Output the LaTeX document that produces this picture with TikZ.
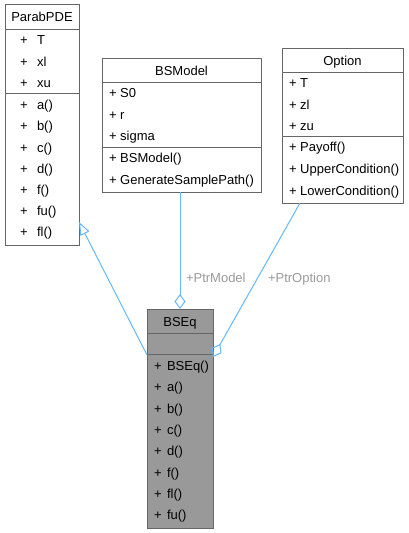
\documentclass[tikz,border=0pt]{standalone}
\usepackage{fontspec}
\setmainfont{Liberation Sans}
\usetikzlibrary{arrows.meta,calc}
\definecolor{boxline}{HTML}{666666}
\definecolor{boxfill}{HTML}{999999}
\definecolor{edgeblue}{HTML}{63B8FF}
\definecolor{lblgray}{HTML}{9A9A9A}
\tikzset{
  classbox/.style={draw=boxline, line width=1pt, inner sep=0pt, outer sep=0pt, anchor=north west, rectangle},
  txt/.style={inner sep=0pt, outer sep=0pt, font=\fontsize{13}{15}\selectfont, text height=9.3pt, text depth=0pt, anchor=west},
  ttl/.style={txt, anchor=center},
  divider/.style={draw=boxline, line width=1pt},
  edge/.style={draw=edgeblue, line width=1pt},
  lbl/.style={txt, text=lblgray},
}
\begin{document}
\begin{tikzpicture}[x=1pt,y=-1pt]
\useasboundingbox (0,0) rectangle (409,533);
% ---------- ParabPDE ----------
\node[classbox, fill=white, minimum width=74pt, minimum height=241pt] (parab) at (5,4) {};
\draw[divider] ($(parab.north west)+(0,25)$) -- ($(parab.north east)+(0,25)$);
\draw[divider] ($(parab.north west)+(0,89)$) -- ($(parab.north east)+(0,89)$);
\node[ttl] (parabT) at ($(parab.north)+(0,13)$) {ParabPDE};
\foreach \n/\y [count=\i] in {T/40, xl/61.5, xu/83, a()/105, b()/126.2, c()/147.4, d()/168.6, f()/189.8, fu()/211, fl()/232.2}{
  \node[txt] (parabP\i) at (20,\y) {+};
  \node[txt] (parabN\i) at (37,\y) {\n};
}
% ---------- BSModel ----------
\node[classbox, fill=white, minimum width=159pt, minimum height=134pt] (bsmodel) at (102,58) {};
\draw[divider] ($(bsmodel.north west)+(0,24)$) -- ($(bsmodel.north east)+(0,24)$);
\draw[divider] ($(bsmodel.north west)+(0,89)$) -- ($(bsmodel.north east)+(0,89)$);
\node[ttl] (bsmodelT) at ($(bsmodel.north)+(0,12.5)$) {BSModel};
\foreach \n/\y [count=\i] in {S0/93, r/114.5, sigma/136, BSModel()/158, GenerateSamplePath()/180}{
  \node[txt] (bsmodelN\i) at (109,\y) {+ \n};
}
% ---------- Option ----------
\node[classbox, fill=white, minimum width=121pt, minimum height=155pt] (option) at (282,48) {};
\draw[divider] ($(option.north west)+(0,24)$) -- ($(option.north east)+(0,24)$);
\draw[divider] ($(option.north west)+(0,88)$) -- ($(option.north east)+(0,88)$);
\node[ttl] (optionT) at ($(option.north)+(0,12.5)$) {Option};
\foreach \n/\y [count=\i] in {T/83, zl/105, zu/126, Payoff()/147, UpperCondition()/169, LowerCondition()/191}{
  \node[txt] (optionN\i) at (289,\y) {+ \n};
}
% ---------- BSEq ----------
\node[classbox, fill=boxfill, minimum width=66pt, minimum height=219pt] (bseq) at (147,309) {};
\draw[divider] ($(bseq.north west)+(0,24)$) -- ($(bseq.north east)+(0,24)$);
\draw[divider] ($(bseq.north west)+(0,45)$) -- ($(bseq.north east)+(0,45)$);
\node[ttl] (bseqT) at ($(bseq.north)+(0,12.5)$) {BSEq};
\foreach \n/\y [count=\i] in {BSEq()/366, a()/387, b()/408.5, c()/430, d()/451, f()/472.5, fl()/494, fu()/515}{
  \node[txt] (bseqP\i) at (154,\y) {+};
  \node[txt] (bseqN\i) at (167,\y) {\n};
}
% ---------- connectors ----------
\coordinate (inhS) at ($(bseq.north west)+(0,46)$);
\coordinate (inhE) at ($(parab.north east)+(0,218)$);
\draw[edge, -{Triangle[open, length=13pt, width=10pt, line width=1pt]}] (inhS) -- (inhE);

\coordinate (modS) at (bsmodel.south -| bseq.north);
\draw[edge, -{Diamond[open, length=15pt, width=11pt, line width=1pt]}] (modS) -- (bseq.north);
\node[lbl] (lblModel) at (186,278) {+PtrModel};

\coordinate (optS) at ($(option.south west)+(18,0)$);
\coordinate (optE) at ($(bseq.north east)+(0,48)$);
\draw[edge, -{Diamond[open, length=15pt, width=11pt, line width=1pt]}] (optS) -- (optE);
\node[lbl] (lblOption) at (268,278) {+PtrOption};
\end{tikzpicture}
\end{document}
